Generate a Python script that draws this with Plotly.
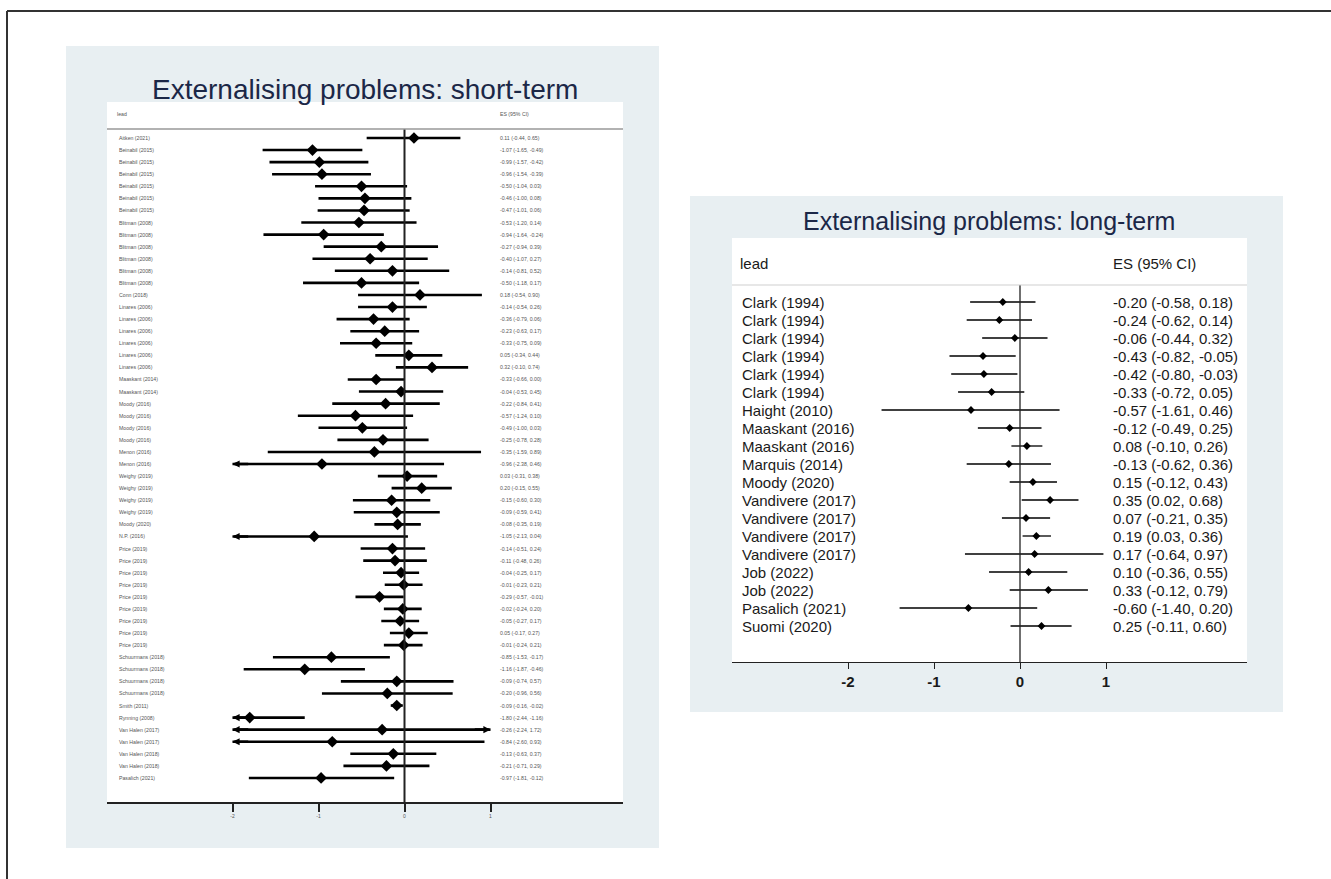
import plotly.graph_objects as go

W, H = 1331, 879

# ---------------- data: short-term ----------------
st_labels = [
    "Aitken (2021)", "Beinabil (2015)", "Beinabil (2015)", "Beinabil (2015)", "Beinabil (2015)",
    "Beinabil (2015)", "Beinabil (2015)", "Blitman (2008)", "Blitman (2008)", "Blitman (2008)",
    "Blitman (2008)", "Blitman (2008)", "Blitman (2008)", "Conn (2018)", "Linares (2006)",
    "Linares (2006)", "Linares (2006)", "Linares (2006)", "Linares (2006)", "Linares (2006)",
    "Maaskant (2014)", "Maaskant (2014)", "Moody (2016)", "Moody (2016)", "Moody (2016)",
    "Moody (2016)", "Menon (2016)", "Menon (2016)", "Weighy (2019)", "Weighy (2019)",
    "Weighy (2019)", "Weighy (2019)", "Moody (2020)", "N.P. (2016)", "Price (2019)",
    "Price (2019)", "Price (2019)", "Price (2019)", "Price (2019)", "Price (2019)",
    "Price (2019)", "Price (2019)", "Price (2019)", "Schuurmans (2018)", "Schuurmans (2018)",
    "Schuurmans (2018)", "Schuurmans (2018)", "Smith (2011)", "Rynning (2008)", "Van Halen (2017)",
    "Van Halen (2017)", "Van Halen (2018)", "Van Halen (2018)", "Pasalich (2021)",
]
st_es = [0.11, -1.07, -0.99, -0.96, -0.50, -0.46, -0.47, -0.53, -0.94, -0.27,
         -0.40, -0.14, -0.50, 0.18, -0.14, -0.36, -0.23, -0.33, 0.05, 0.32,
         -0.33, -0.04, -0.22, -0.57, -0.49, -0.25, -0.35, -0.96, 0.03, 0.20,
         -0.15, -0.09, -0.08, -1.05, -0.14, -0.11, -0.04, -0.01, -0.29, -0.02,
         -0.05, 0.05, -0.01, -0.85, -1.16, -0.09, -0.20, -0.09, -1.80, -0.26,
         -0.84, -0.13, -0.21, -0.97]
st_lo = [-0.44, -1.65, -1.57, -1.54, -1.04, -1.00, -1.01, -1.20, -1.64, -0.94,
         -1.07, -0.81, -1.18, -0.54, -0.54, -0.79, -0.63, -0.75, -0.34, -0.10,
         -0.66, -0.53, -0.84, -1.24, -1.00, -0.78, -1.59, -2.38, -0.31, -0.15,
         -0.60, -0.59, -0.35, -2.13, -0.51, -0.48, -0.25, -0.23, -0.57, -0.24,
         -0.27, -0.17, -0.24, -1.53, -1.87, -0.74, -0.96, -0.16, -2.44, -2.24,
         -2.60, -0.63, -0.71, -1.81]
st_hi = [0.65, -0.49, -0.42, -0.39, 0.03, 0.08, 0.06, 0.14, -0.24, 0.39,
         0.27, 0.52, 0.17, 0.90, 0.26, 0.06, 0.17, 0.09, 0.44, 0.74,
         0.00, 0.45, 0.41, 0.10, 0.03, 0.28, 0.89, 0.46, 0.38, 0.55,
         0.30, 0.41, 0.19, 0.04, 0.24, 0.26, 0.17, 0.21, -0.01, 0.20,
         0.17, 0.27, 0.21, -0.17, -0.46, 0.57, 0.56, -0.02, -1.16, 1.72,
         0.93, 0.37, 0.29, -0.12]

# ---------------- data: long-term ----------------
lt_labels = ["Clark (1994)", "Clark (1994)", "Clark (1994)", "Clark (1994)", "Clark (1994)",
             "Clark (1994)", "Haight (2010)", "Maaskant (2016)", "Maaskant (2016)", "Marquis (2014)",
             "Moody (2020)", "Vandivere (2017)", "Vandivere (2017)", "Vandivere (2017)",
             "Vandivere (2017)", "Job (2022)", "Job (2022)", "Pasalich (2021)", "Suomi (2020)"]
lt_es = [-0.20, -0.24, -0.06, -0.43, -0.42, -0.33, -0.57, -0.12, 0.08, -0.13,
         0.15, 0.35, 0.07, 0.19, 0.17, 0.10, 0.33, -0.60, 0.25]
lt_lo = [-0.58, -0.62, -0.44, -0.82, -0.80, -0.72, -1.61, -0.49, -0.10, -0.62,
         -0.12, 0.02, -0.21, 0.03, -0.64, -0.36, -0.12, -1.40, -0.11]
lt_hi = [0.18, 0.14, 0.32, -0.05, -0.03, 0.05, 0.46, 0.25, 0.26, 0.36,
         0.43, 0.68, 0.35, 0.36, 0.97, 0.55, 0.79, 0.20, 0.60]

tick_vals = [-2, -1, 0, 1]
tick_text = ["-2", "-1", "0", "1"]
clip_lo, clip_hi = -2, 1

FONT = "Arial, Liberation Sans, sans-serif"
BG = "#e8eff2"


def px_x(p):
    return p / W


def px_y(p):
    return 1 - p / H


def fmt(v):
    return f"{v:.2f}"


fig = go.Figure()
shapes = []
annotations = []

# outer frame (top and left)
shapes.append(dict(type="line", xref="paper", yref="paper", x0=px_x(7), x1=px_x(7), y0=0, y1=px_y(11),
                   line=dict(color="#333", width=2)))
shapes.append(dict(type="line", xref="paper", yref="paper", x0=px_x(7), x1=1, y0=px_y(11), y1=px_y(11),
                   line=dict(color="#333", width=2)))

panels = [
    dict(name="st", labels=st_labels, es=st_es, lo=st_lo, hi=st_hi,
         bg=(66, 659, 46, 848), box=(107, 623, 102, 802), zero_px=404.5, upx=86.0,
         row0=138, rowh=12.075, header_y=114, hline=129, label_x=117, es_x=498,
         title="Externalising problems: short-term", title_xy=(365, 89), title_size=28,
         font=5.2, tickfont=5, lw=2.6, msize=9, ticklen=8, tickw=2, axw=2, arrsize=0.55,
         txtcolor="#555", hcolor="#999", hw=1.5, zw=2, xa="x", ya="y", boldticks=False),
    dict(name="lt", labels=lt_labels, es=lt_es, lo=lt_lo, hi=lt_hi,
         bg=(690, 1283, 196, 712), box=(732, 1247, 238, 662), zero_px=1020, upx=86.0,
         row0=302, rowh=18.0, header_y=263, hline=285, label_x=740, es_x=1111,
         title="Externalising problems: long-term", title_xy=(989, 221), title_size=25,
         font=15, tickfont=15, lw=1.3, msize=6, ticklen=6, tickw=1.3, axw=1.3, arrsize=1,
         txtcolor="#1a1a1a", hcolor="#cfcfcf", hw=1.2, zw=1.3, xa="x2", ya="y2", boldticks=True),
]

for k, p in enumerate(panels):
    bx0, bx1, by0, by1 = p["bg"]
    shapes.append(dict(type="rect", xref="paper", yref="paper", layer="below",
                       x0=px_x(bx0), x1=px_x(bx1), y0=px_y(by1), y1=px_y(by0),
                       fillcolor=BG, line=dict(width=0)))
    wx0, wx1, wy0, wy1 = p["box"]
    shapes.append(dict(type="rect", xref="paper", yref="paper", layer="below",
                       x0=px_x(wx0), x1=px_x(wx1), y0=px_y(wy1), y1=px_y(wy0),
                       fillcolor="white", line=dict(width=0)))
    xr = [(wx0 - p["zero_px"]) / p["upx"], (wx1 - p["zero_px"]) / p["upx"]]
    yr = [(wy1 - p["row0"]) / p["rowh"], (wy0 - p["row0"]) / p["rowh"]]
    axkey = "xaxis" if k == 0 else "xaxis2"
    aykey = "yaxis" if k == 0 else "yaxis2"
    ttext = [f"<b>{t}</b>" for t in tick_text] if p["boldticks"] else tick_text
    xa_cfg = dict(domain=[px_x(wx0), px_x(wx1)], range=xr, tickvals=tick_vals, ticktext=ttext,
                  showgrid=False, zeroline=False, showline=True, linecolor="#222", linewidth=p["axw"],
                  ticks="outside", ticklen=p["ticklen"], tickwidth=p["tickw"], tickcolor="#222",
                  tickfont=dict(family=FONT, size=p["tickfont"], color=p["txtcolor"]),
                  anchor=p["ya"], fixedrange=True)
    ya_cfg = dict(domain=[px_y(wy1), px_y(wy0)], range=yr, visible=False, anchor=p["xa"], fixedrange=True)
    fig.update_layout(**{axkey: xa_cfg, aykey: ya_cfg})

    n = len(p["labels"])
    xs, ys = [], []
    arrows = []
    for i in range(n):
        lo_c = max(p["lo"][i], clip_lo)
        hi_c = min(p["hi"][i], clip_hi)
        xs += [lo_c, hi_c, None]
        ys += [i, i, None]
        if p["lo"][i] < clip_lo:
            arrows.append((clip_lo, i, clip_lo + 0.2))
        if p["hi"][i] > clip_hi:
            arrows.append((clip_hi, i, clip_hi - 0.2))
    fig.add_trace(go.Scatter(x=xs, y=ys, mode="lines", line=dict(color="black", width=p["lw"]),
                             xaxis=p["xa"], yaxis=p["ya"], hoverinfo="skip", showlegend=False))
    fig.add_trace(go.Scatter(x=p["es"], y=list(range(n)), mode="markers",
                             marker=dict(symbol="diamond", size=p["msize"], color="black"),
                             xaxis=p["xa"], yaxis=p["ya"], showlegend=False))
    for (xh, yh, xt) in arrows:
        annotations.append(dict(x=xh, y=yh, ax=xt, ay=yh, xref=p["xa"], yref=p["ya"],
                                axref=p["xa"], ayref=p["ya"], text="", showarrow=True,
                                arrowhead=2, arrowsize=p["arrsize"], arrowwidth=p["lw"], arrowcolor="black"))

    # zero line
    shapes.append(dict(type="line", xref=p["xa"], yref="paper", x0=0, x1=0,
                       y0=px_y(wy1), y1=px_y(p["hline"]), line=dict(color="#222", width=p["zw"])))
    # header separator
    shapes.append(dict(type="line", xref="paper", yref="paper", x0=px_x(wx0), x1=px_x(wx1),
                       y0=px_y(p["hline"]), y1=px_y(p["hline"]), line=dict(color=p["hcolor"], width=p["hw"])))

    # header
    for txt, xp in (("lead", p["label_x"] - 2), ("ES (95% CI)", p["es_x"])):
        annotations.append(dict(x=px_x(xp), y=px_y(p["header_y"]), xref="paper", yref="paper",
                                text=txt, showarrow=False, xanchor="left", yanchor="middle",
                                font=dict(family=FONT, size=p["font"], color=p["txtcolor"])))
    # rows
    for i in range(n):
        annotations.append(dict(x=px_x(p["label_x"]), y=i, xref="paper", yref=p["ya"],
                                text=p["labels"][i], showarrow=False, xanchor="left", yanchor="middle",
                                font=dict(family=FONT, size=p["font"], color=p["txtcolor"])))
        es_txt = f"{fmt(p['es'][i])} ({fmt(p['lo'][i])}, {fmt(p['hi'][i])})"
        annotations.append(dict(x=px_x(p["es_x"]), y=i, xref="paper", yref=p["ya"],
                                text=es_txt, showarrow=False, xanchor="left", yanchor="middle",
                                font=dict(family=FONT, size=p["font"], color=p["txtcolor"])))
    # title
    tx, ty = p["title_xy"]
    annotations.append(dict(x=px_x(tx), y=px_y(ty), xref="paper", yref="paper", text=p["title"],
                            showarrow=False, xanchor="center", yanchor="middle",
                            font=dict(family=FONT, size=p["title_size"], color="#1b2747")))

fig.update_layout(width=W, height=H, margin=dict(l=0, r=0, t=0, b=0),
                  paper_bgcolor="white", plot_bgcolor="rgba(0,0,0,0)",
                  shapes=shapes, annotations=annotations, showlegend=False)

fig.write_html("out.html", config={"displayModeBar": False},
               post_script="document.body.style.margin='0';")
